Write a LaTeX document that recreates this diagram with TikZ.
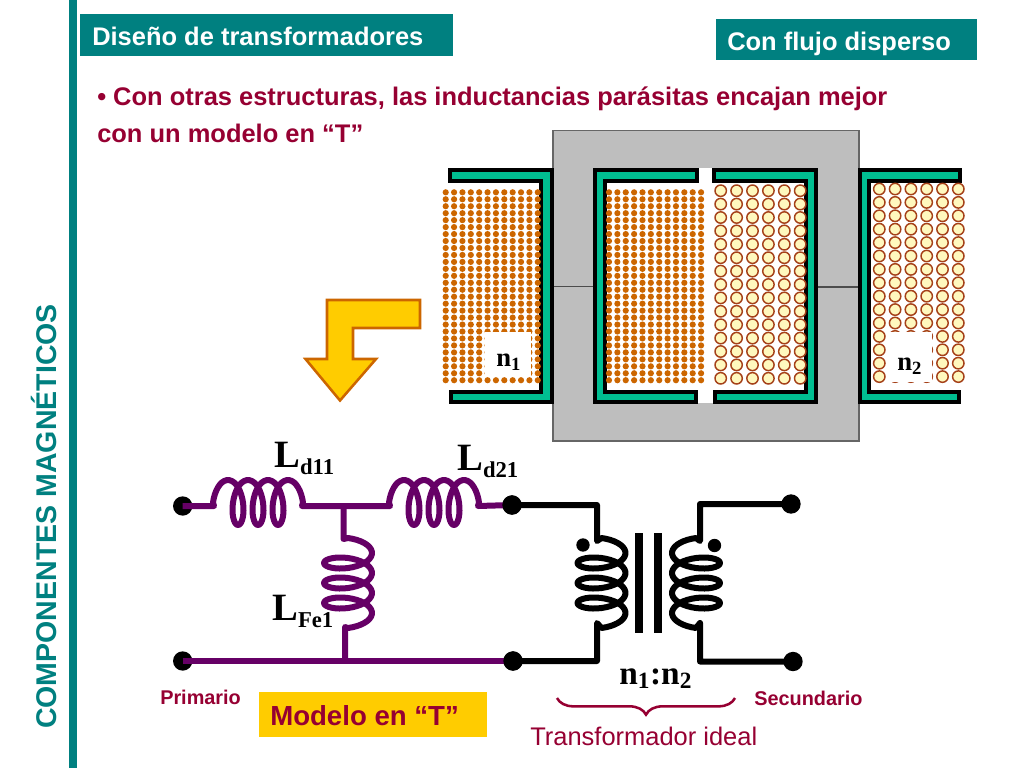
\documentclass[tikz,border=0pt]{standalone}
\usepackage{fontspec}
\setmainfont{Liberation Sans}
\newfontfamily\serifbf{Liberation Serif}
\usetikzlibrary{decorations.pathreplacing}
\definecolor{barteal}{RGB}{0,128,128}
\definecolor{bobgreen}{RGB}{0,190,145}
\definecolor{wirepurple}{RGB}{102,0,102}
\definecolor{darkred}{RGB}{150,0,50}
\definecolor{copper}{RGB}{204,102,0}
\definecolor{rimred}{RGB}{165,65,25}
\definecolor{cream}{RGB}{255,248,190}
\definecolor{coregray}{RGB}{190,190,190}
\definecolor{gold}{RGB}{255,204,0}
\newcommand{\lsub}[1]{\raisebox{-5.8pt}{\fontsize{17}{17}\selectfont #1}}
\tikzset{
  titlebox/.style={fill=barteal, draw=none},
  titletext/.style={text=white, anchor=base west, inner sep=0, font=\fontsize{19.1}{21}\selectfont\bfseries},
  bodytext/.style={text=darkred, anchor=base west, inner sep=0, font=\fontsize{19.1}{21}\selectfont\bfseries},
  smalltext/.style={text=darkred, anchor=base west, inner sep=0, font=\fontsize{14.9}{16}\selectfont\bfseries},
  bobbin/.style={draw=black, fill=bobgreen, line width=2.4pt, line join=miter},
  labeltext/.style={anchor=base west, inner sep=0, font=\fontsize{29}{31}\serifbf\selectfont\bfseries},
  turnstext/.style={anchor=base west, inner sep=0, font=\fontsize{20}{22}\serifbf\selectfont\bfseries},
  terminal/.style={circle, fill=black, inner sep=0, minimum size=14.5pt},
  purplewire/.style={draw=wirepurple, line width=4.5pt, line join=round},
  blackwire/.style={draw=black, line width=4.5pt, line join=round},
  hcoil/.style n args={2}{insert path={-- plot[domain=-90:1170, samples=120] ({#1+\x/18+10*sin(\x)},{#2-22.5*cos(\x)})}},
  vcoil/.style n args={3}{insert path={-- plot[domain=-90:1170, samples=120] ({#1+#3*24*cos(\x)},{#2+\x/18+10*sin(\x)})}},
}
\begin{document}
\begin{tikzpicture}[x=0.75pt, y=-0.75pt]
  \useasboundingbox (0,0) rectangle (1024,768);
  \fill[barteal] (69,0) rectangle (77,768);
  \fill[titlebox] (80,14) rectangle (453,56);
  \fill[titlebox] (716,19) rectangle (977,60);
  \node[titletext] (title) at (92,45) {Diseño de transformadores};
  \node[titletext] (flux) at (727,50) {Con flujo disperso};
  \node[bodytext] (line1) at (97,105) {• Con otras estructuras, las inductancias parásitas encajan mejor};
  \node[bodytext] (line2) at (97,142) {con un modelo en “T”};
  \node[rotate=90, text=barteal, inner sep=0, font=\fontsize{21.4}{23}\selectfont\bfseries] (side) at (44,516.5) {COMPONENTES MAGNÉTICOS};
  % core
  \draw[fill=coregray, draw=black!60, line width=0.9pt] (553,130.5) rectangle (859,441);
  \fill[white] (593,168) rectangle (817,403);
  \draw[black!70, line width=0.9pt] (553,286.5) -- (593,286.5);
  \draw[black!70, line width=0.9pt] (817,287) -- (859,287);
  % bobbins
  \draw[bobbin] (450,170) -- (552,170) -- (552,402) -- (451,402) -- (451,392) -- (541,392) -- (541,181) -- (450,181) -- cycle;
  \draw[bobbin] (595,170) -- (697,170) -- (697,181) -- (605,181) -- (605,392) -- (696,392) -- (696,402) -- (595,402) -- cycle;
  \draw[bobbin] (714,170) -- (816,170) -- (816,402) -- (715,402) -- (715,392) -- (806,392) -- (806,181) -- (714,181) -- cycle;
  \draw[bobbin] (860,170) -- (960,170) -- (960,181) -- (869,181) -- (869,392) -- (959,392) -- (959,402) -- (860,402) -- cycle;
  % windings
  \foreach \c in {0,...,11} \foreach \r in {0,...,27} {
    \fill[copper] (445.7+\c*8.37,192.3+\r*6.96) circle (3.1);
    \fill[copper] (609+\c*8.37,192.3+\r*6.96) circle (3.1);
  }
  \foreach \c in {0,...,5} \foreach \r in {0,...,14} {
    \draw[fill=cream, draw=rimred, line width=1.1pt] (720.7+\c*15.9,190.7+\r*13.4) circle (5.7);
    \draw[fill=cream, draw=rimred, line width=1.1pt] (879.3+\c*15.8,189+\r*13.4) circle (5.7);
  }
  \fill[white] (485,332) rectangle (531,377);
  \fill[white] (888,332) rectangle (932,382);
  \node[turnstext] (n1) at (496,366) {n\textsubscript{1}};
  \node[turnstext] (n2) at (897,370) {n\textsubscript{2}};
  % arrow
  \draw[fill=gold, draw=copper, line width=1.9pt] (327,300) -- (420,300) -- (420,328) -- (353,328) -- (353,359) -- (376,359) -- (340,400.5) -- (305.5,359) -- (327,359) -- cycle;
  % purple side
  \coordinate (la) at (214,506);
  \coordinate (lb) at (302,506);
  \coordinate (ra) at (390,506);
  \coordinate (rb) at (478,506);
  \coordinate (tee) at (343.5,506);
  \coordinate (fa) at (343.5,539);
  \coordinate (fb) at (345,627);
  \coordinate (foot) at (345,661);
  \node[terminal] (pt) at (182.7,506) {};
  \node[terminal] (pb) at (182.7,661) {};
  \node[terminal] (mt) at (512,505) {};
  \node[terminal] (mb) at (513,661) {};
  \draw[purplewire] (pt.center) -- (la) [hcoil={228}{502.5}] -- (lb) -- (ra) [hcoil={404}{502.5}] -- (rb) -- (mt.center);
  \draw[purplewire] (tee) -- (fa) [vcoil={348}{553}{1}] -- (fb) -- (foot);
  \draw[purplewire] (pb.center) -- (mb.center);
  % ideal transformer
  \coordinate (sa) at (597,505);
  \coordinate (sb) at (597,661);
  \coordinate (sc) at (700,504);
  \coordinate (sd) at (700,661.5);
  \node[terminal] (st) at (791,504) {};
  \node[terminal] (sf) at (793,661.5) {};
  \draw[blackwire] (mt.center) -- (sa) -- (597,541) [vcoil={601.5}{553}{1}] -- (597,623) -- (sb) -- (mb.center);
  \draw[blackwire] (st.center) -- (sc) -- (700,541) [vcoil={696}{553}{-1}] -- (700,623) -- (sd) -- (sf.center);
  \fill[black] (635,533) rectangle (643,633);
  \fill[black] (654,533) rectangle (662,633);
  \node[circle, fill=black, inner sep=0, minimum size=10pt] (dl) at (583,545) {};
  \node[circle, fill=black, inner sep=0, minimum size=10pt] (dr) at (714.5,545.5) {};
  \node[terminal] at (mt) {};
  \node[terminal] at (mb) {};
  % labels
  \node[labeltext] (ld11) at (274,467) {L\lsub{d11}};
  \node[labeltext] (ld21) at (457,470) {L\lsub{d21}};
  \node[labeltext] (lfe1) at (272,620) {L\lsub{Fe1}};
  \node[labeltext, font=\fontsize{25}{27}\serifbf\selectfont\bfseries] (ratio) at (619,684) {n\textsubscript{1}:n\textsubscript{2}};
  \coordinate (ba) at (557,698);
  \coordinate (bb) at (735,698);
  \draw[draw=darkred, line width=1.9pt, decorate, decoration={brace, mirror, amplitude=12.5pt}] (ba) -- (bb);
  \node[anchor=base west, inner sep=0, text=darkred, font=\fontsize{19.1}{21}\selectfont] (ideal) at (530,745) {Transformador ideal};
  \node[smalltext] (prim) at (160,704) {Primario};
  \node[smalltext] (sec) at (754,705) {Secundario};
  \fill[gold] (259,692) rectangle (487,737);
  \node[bodytext, font=\fontsize{20.7}{22}\selectfont\bfseries] (model) at (270,725) {Modelo en “T”};
\end{tikzpicture}
\end{document}
